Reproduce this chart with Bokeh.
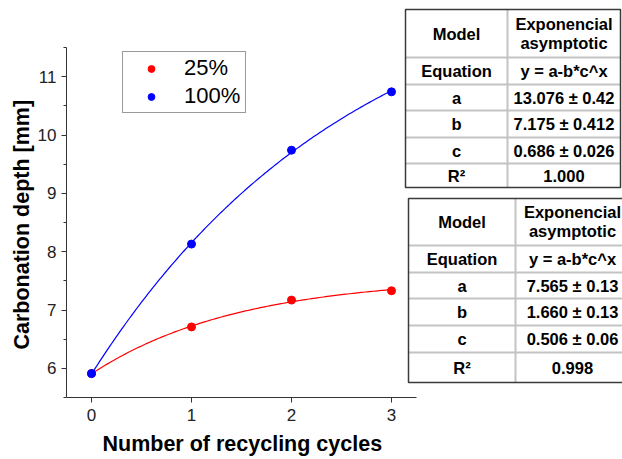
import numpy as np
from bokeh.plotting import figure
from bokeh.models import (FixedTicker, Legend, LegendItem, Label, BoxAnnotation,
                          Range1d, Title)
from bokeh.embed import file_html
from bokeh.resources import INLINE

# Measured carbonation depth per recycling cycle
cycles = [0, 1, 2, 3]
depth_25 = [5.91, 6.71, 7.17, 7.33]
depth_100 = [5.91, 8.13, 9.74, 10.74]

x_ticks = [0, 1, 2, 3]
y_ticks = [6, 7, 8, 9, 10, 11]
y_minor = [5.5, 6.5, 7.5, 8.5, 9.5, 10.5, 11.5]

# Exponential asymptotic fit y = a - b*c^x : values [a, b, c] and their errors
params_100 = [13.076, 7.175, 0.686]
errors_100 = ["0.42", "0.412", "0.026"]
r2_100 = "1.000"

params_25 = [7.565, 1.660, 0.506]
errors_25 = ["0.13", "0.13", "0.06"]
r2_25 = "0.998"

FONT = "Liberation Sans"
RED = "#ff0000"
BLUE = "#0000ff"

# The frame reaches the right and top canvas edges so the parameter tables
# can sit inside it; the axes are limited to the data extent with bounds.
X0, X1 = -0.25, 3.25
Y0, Y1 = 5.5, 11.5
PX_X = 100.0            # pixels per cycle
PX_Y = 350.0 / 6.0      # pixels per mm
FRAME_W, FRAME_H = 556, 397

p = figure(frame_width=FRAME_W, frame_height=FRAME_H,
           min_border_left=66, min_border_right=0,
           min_border_top=0, min_border_bottom=62,
           x_range=Range1d(X0, X0 + FRAME_W / PX_X),
           y_range=Range1d(Y0, Y0 + FRAME_H / PX_Y),
           output_backend="svg", toolbar_location=None)
p.outline_line_color = None
p.xgrid.visible = False
p.ygrid.visible = False
p.background_fill_color = "white"
p.border_fill_color = "white"


def fit_curve(params):
    a, b, c = params
    xs = np.linspace(0, 3, 151)
    return xs, a - b * c ** xs


xs, ys = fit_curve(params_25)
p.line(xs, ys, line_color=RED, line_width=1.2)
r25 = p.scatter(cycles, depth_25, size=8, fill_color=RED, line_color=RED)

xs, ys = fit_curve(params_100)
p.line(xs, ys, line_color=BLUE, line_width=1.2)
r100 = p.scatter(cycles, depth_100, size=8, fill_color=BLUE, line_color=BLUE)

# Axes
p.xaxis.ticker = FixedTicker(ticks=x_ticks, minor_ticks=[])
p.yaxis.ticker = FixedTicker(ticks=y_ticks, minor_ticks=y_minor)
p.xaxis.bounds = (X0, X1)
p.yaxis.bounds = (Y0, Y1)
for ax in (p.xaxis, p.yaxis):
    ax.axis_line_color = "#333333"
    ax.axis_line_width = 1
    ax.major_tick_line_color = "#333333"
    ax.minor_tick_line_color = "#333333"
    ax.major_tick_out = 5
    ax.major_tick_in = 0
    ax.minor_tick_out = 3
    ax.minor_tick_in = 0
    ax.major_label_text_font = FONT
    ax.major_label_text_font_size = "17px"
    ax.major_label_text_color = "#222222"
p.xaxis.major_label_standoff = 6
p.yaxis.major_label_standoff = 5

# Axis titles, positioned along the data extent of each axis
p.add_layout(Title(text="Number of recycling cycles", align="left", offset=36,
                   standoff=0, padding={"top": 6, "bottom": 0, "left": 0, "right": 0},
                   text_font=FONT, text_font_size="21.5px",
                   text_font_style="bold", text_color="black"), "below")
p.add_layout(Title(text="Carbonation depth [mm]", align="left", offset=48,
                   standoff=2, text_font=FONT, text_font_size="21.5px",
                   text_font_style="bold", text_color="black"), "left")

legend = Legend(items=[LegendItem(label="25%", renderers=[r25]),
                       LegendItem(label="100%", renderers=[r100])],
                location=(56, 284), orientation="vertical",
                border_line_color="#333333", border_line_width=1,
                background_fill_color="white", background_fill_alpha=1,
                padding=3, spacing=2, margin=0,
                glyph_width=50, glyph_height=17, label_standoff=8,
                label_width=58, label_height=23,
                label_text_font=FONT, label_text_font_size="22px",
                label_text_color="black")
p.add_layout(legend)

# Parameter tables, placed in canvas pixels relative to the frame corner
FL, FB = 66, 397


def sx(px):
    return px - FL


def sy(py):
    return FB - py


def box(l, r, t, b, fill=None, line=None, lw=1):
    p.add_layout(BoxAnnotation(
        left=sx(l), right=sx(r), top=sy(t), bottom=sy(b),
        left_units="screen", right_units="screen",
        top_units="screen", bottom_units="screen",
        fill_color=fill if fill else "white", fill_alpha=1 if fill else 0,
        line_color=line if line else "white", line_alpha=1 if line else 0,
        line_width=lw, level="overlay"))


def text(cx, cy, s, size="16.5px"):
    p.add_layout(Label(x=sx(cx), y=sy(cy), x_units="screen", y_units="screen",
                       text=s, text_align="center", text_baseline="middle",
                       text_font=FONT, text_font_style="bold",
                       text_font_size=size, text_color="black",
                       level="overlay"))


def table(L, R, T, B, split, rows, params, errors, r2):
    box(L, R, T, B, fill="white")
    for y in rows:
        box(L, R, y + 1, y - 1, fill="#c4c4c4")
    box(split - 1, split + 1, T, B, fill="#c4c4c4")
    box(L, R, T, B, line="#3a3a3a", lw=1.5)
    lc = (L + split) / 2
    rc = (split + R) / 2
    hc = (T + rows[0]) / 2
    text(lc, hc, "Model")
    text(rc, hc - 10, "Exponencial")
    text(rc, hc + 9, "asymptotic")
    edges = list(rows) + [B]
    names = ["Equation", "a", "b", "c", "R\u00b2"]
    values = ["y = a-b*c^x"] + [f"{v:.3f} \u00b1 {e}" for v, e in zip(params, errors)] + [r2]
    for i, (n, v) in enumerate(zip(names, values)):
        cy = (edges[i] + edges[i + 1]) / 2
        text(lc, cy, n)
        text(rc, cy, v)


table(405, 620, 9, 187, 507, [57, 84, 110, 137, 163], params_100, errors_100, r2_100)
table(408, 629, 198, 382, 515, [245, 272, 298, 325, 352], params_25, errors_25, r2_25)

open("out.html", "w").write(file_html(p, INLINE))
